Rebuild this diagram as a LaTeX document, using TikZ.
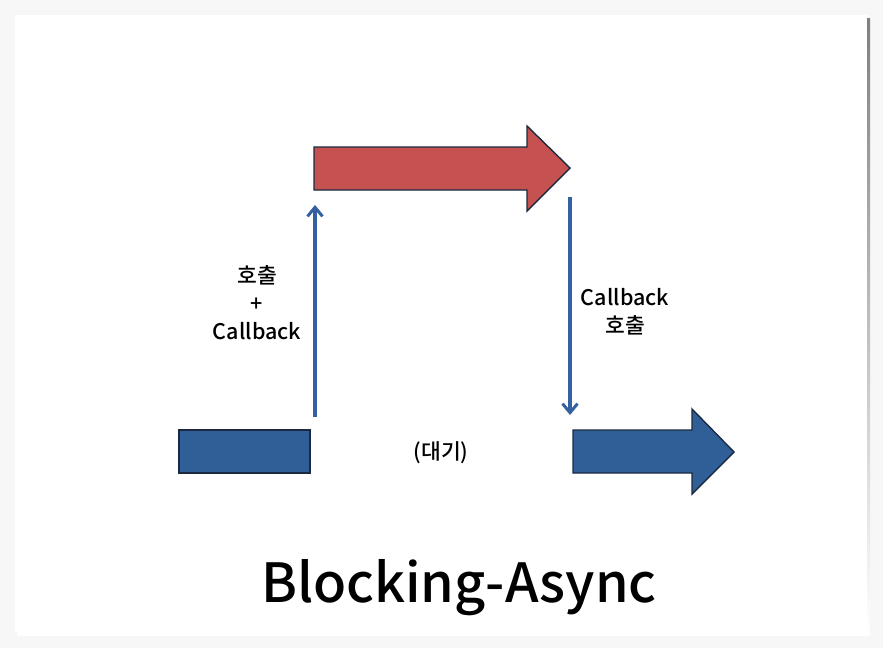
\documentclass[tikz,border=0pt]{standalone}
\usepackage{fontspec}
\setmainfont{Noto Sans CJK KR}[FontFace={mb}{n}{Font=Noto Sans CJK KR Medium}]
\usetikzlibrary{arrows.meta}
\definecolor{bgc}{HTML}{F7F7F7}
\definecolor{shade}{HTML}{E6E6E6}
\definecolor{redf}{HTML}{C55250}
\definecolor{bluef}{HTML}{305F98}
\definecolor{edgec}{HTML}{1B2A40}
\definecolor{linec}{HTML}{3462A0}
\tikzset{
  blockshape/.style={draw=edgec, line width=1.4pt, line join=miter},
  conn/.style={draw=linec, line width=3.3pt, -{Straight Barb[length=9pt,width=15pt,line width=3pt]}},
  lbl/.style={font=\fontsize{21.5}{28}\selectfont\fontseries{mb}\selectfont, align=center, inner sep=0pt},
}
\begin{document}
\begin{tikzpicture}[x=1pt,y=-1pt]
\useasboundingbox (0,0) rectangle (883,648);
\fill[bgc] (0,0) rectangle (883,648);
\fill[shade] (17,18) rectangle (870,635);
\fill[white] (15,15) rectangle (867,631);
% red arrow
\draw[blockshape, fill=redf] (314,147) -- (527,147) -- (527,126) -- (570,168) -- (527,211) -- (527,190) -- (314,190) -- cycle;
% blue block
\draw[blockshape, fill=bluef] (179,430) rectangle (310,473);
% blue arrow
\draw[blockshape, fill=bluef] (573,430) -- (692,430) -- (692,409) -- (734,452) -- (692,494) -- (692,473) -- (573,473) -- cycle;
\coordinate (upS) at (315,417);
\coordinate (upE) at (315,205);
\coordinate (dnS) at (570,197);
\coordinate (dnE) at (570,415);
\draw[conn] (upS) -- (upE);
\draw[conn] (dnS) -- (dnE);
\node[lbl] (l1) at (257,303) {호출\\+\\Callback};
\node[lbl] (l2) at (625,312) {Callback\\호출};
\node[lbl] (l3) at (441,453) {(대기)};
\node[font=\fontsize{54}{60}\selectfont\fontseries{mb}\selectfont, inner sep=0pt] (title) at (459,588) {Blocking-Async};
\end{tikzpicture}
\end{document}
